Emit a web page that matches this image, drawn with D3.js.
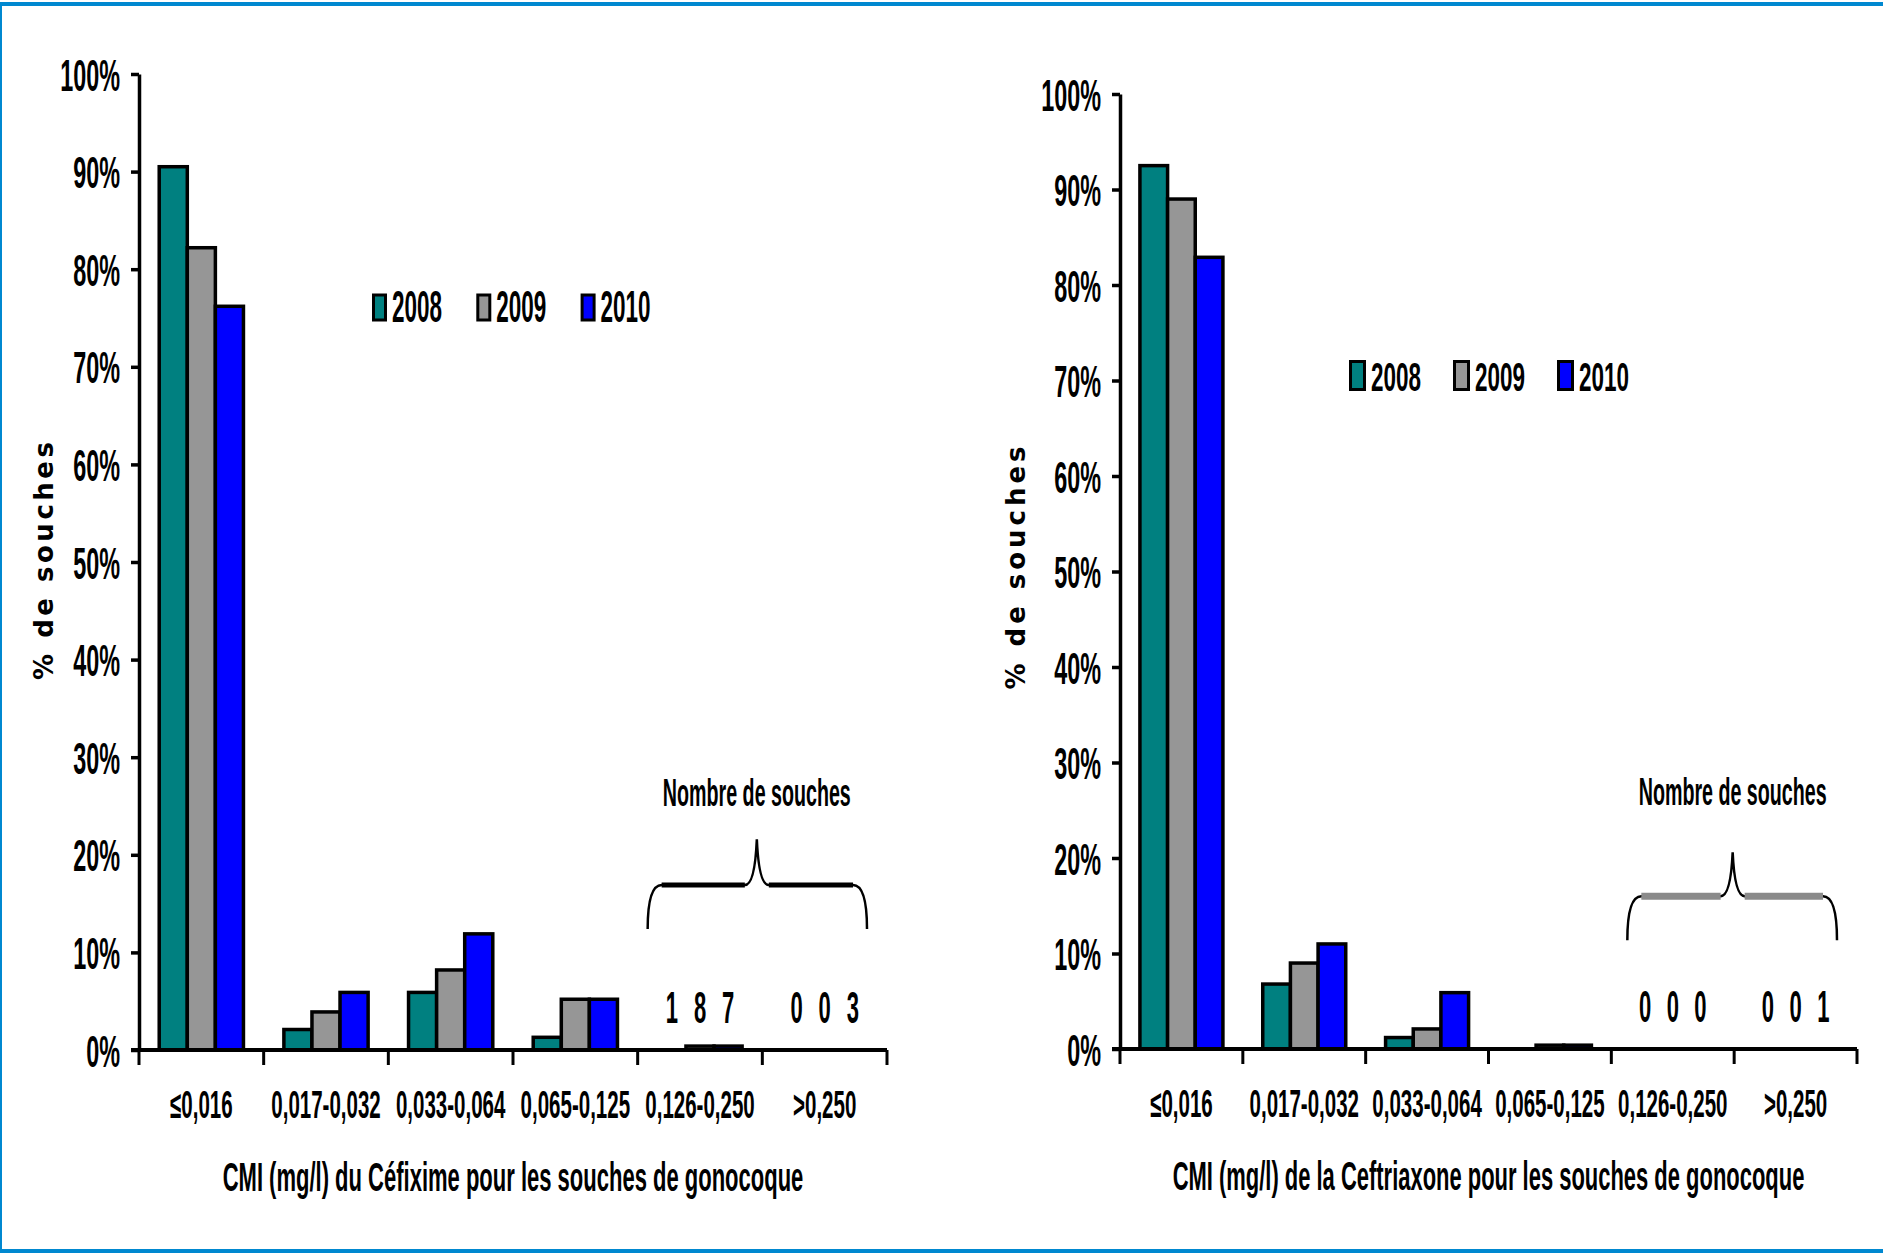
<!DOCTYPE html>
<html><head><meta charset="utf-8">
<script src="https://cdn.jsdelivr.net/npm/d3@7"></script>
<style>
html,body{margin:0;padding:0;background:#fff;}
svg{display:block;}
text{font-family:"Liberation Sans",Arial,sans-serif;font-weight:bold;fill:#000;}
text.ytitle{font-family:"DejaVu Sans",Verdana,sans-serif;}
</style></head><body>
<svg id="chart" width="1883" height="1253"></svg>
<script>
// ---------- data ----------
const categories = ["≤0,016","0,017-0,032","0,033-0,064","0,065-0,125","0,126-0,250",">0,250"];
const years = ["2008","2009","2010"];
const colors = ["#008080","#969696","#0000FF"];
const yTicks = [0,10,20,30,40,50,60,70,80,90,100];

// Céfixime (% de souches)
const cefixime2008 = [90.5, 2.1, 5.9, 1.3, 0, 0];
const cefixime2009 = [82.2, 3.9, 8.2, 5.2, 0.4, 0];
const cefixime2010 = [76.2, 5.9, 11.9, 5.2, 0.4, 0];
// Ceftriaxone (% de souches)
const ceftriaxone2008 = [92.5, 6.8, 1.2, 0, 0, 0];
const ceftriaxone2009 = [89.0, 9.0, 2.1, 0.4, 0, 0];
const ceftriaxone2010 = [82.9, 11.0, 5.9, 0.4, 0, 0];

// Nombre de souches (per year 2008, 2009, 2010)
const countCategories = ["0,126-0,250", ">0,250"];
const cefiximeCountsA = [1, 8, 7];
const cefiximeCountsB = [0, 0, 3];
const ceftriaxoneCountsA = [0, 0, 0];
const ceftriaxoneCountsB = [0, 0, 1];

const cefiximeTitle = "CMI (mg/l) du Céfixime pour les souches de gonocoque";
const ceftriaxoneTitle = "CMI (mg/l) de la Ceftriaxone pour les souches de gonocoque";
const yTitle = "% de souches";
const annotation = "Nombre de souches";

// ---------- drawing ----------
const svg = d3.select("#chart");
svg.append("rect").attr("x",0).attr("y",0).attr("width",1883).attr("height",1253).attr("fill","#fff");

// place a text at (x, y) compressed horizontally to a target width
function fitText(parent, str, x, y, size, width, anchor){
  const t = parent.append("text").attr("font-size", size).attr("text-anchor", anchor).text(str);
  const w = t.node().getComputedTextLength() || width;
  t.attr("transform", `translate(${x},${y}) scale(${width / w},1)`);
  return t;
}

function drawChart(cfg){
  const g = svg.append("g");
  const x = d3.scaleBand().domain(categories).range([cfg.x0, cfg.x1]).paddingInner(0).paddingOuter(0);
  const xi = d3.scaleBand().domain(years).range([0, x.bandwidth()]).paddingInner(0).paddingOuter(0.72);
  const y = d3.scaleLinear().domain([0,100]).range([cfg.yb, cfg.yt]);

  // bars
  const rows = categories.map((c,i)=>({cat:c, vals: cfg.series.map((s,j)=>({year:years[j], v:s[i], color:colors[j]}))}));
  g.append("g").selectAll("g").data(rows).join("g")
    .attr("transform", d=>`translate(${x(d.cat)},0)`)
    .selectAll("rect").data(d=>d.vals.filter(v=>v.v>0)).join("rect")
    .attr("x", d=>xi(d.year)).attr("y", d=>y(d.v))
    .attr("width", xi.bandwidth()).attr("height", d=>y(0)-y(d.v))
    .attr("fill", d=>d.color).attr("stroke","#000").attr("stroke-width",3.5);

  // y axis
  const ya = g.append("g").attr("transform", `translate(${cfg.x0},0)`)
    .call(d3.axisLeft(y).tickValues(yTicks).tickSize(8).tickSizeOuter(0).tickFormat(d=>d+"%"));
  ya.select(".domain").attr("stroke","#000").attr("stroke-width",3.5);
  ya.selectAll(".tick line").attr("stroke","#000").attr("stroke-width",3.5);
  ya.selectAll(".tick text").attr("x",0).attr("dy",null)
    .attr("font-size",45).attr("text-anchor","end")
    .attr("transform","translate(-19,16) scale(0.52,1)");

  // x axis
  const xa = g.append("g").attr("transform", `translate(0,${cfg.yb})`)
    .call(d3.axisBottom(x).tickSize(0).tickSizeOuter(0));
  xa.select(".domain").remove();
  xa.selectAll(".tick text").attr("y",0).attr("dy",null)
    .attr("font-size",38).attr("text-anchor","middle")
    .attr("transform","translate(0,68) scale(0.54,1)");
  g.append("line").attr("x1",cfg.x0-8).attr("x2",cfg.x1).attr("y1",cfg.yb).attr("y2",cfg.yb)
    .attr("stroke","#000").attr("stroke-width",4);
  const bounds = categories.map(c=>x(c)).concat([x.range()[1]]);
  g.append("g").selectAll("line").data(bounds).join("line")
    .attr("x1",d=>d).attr("x2",d=>d).attr("y1",cfg.yb).attr("y2",cfg.yb+15)
    .attr("stroke","#000").attr("stroke-width",3);

  // x title
  fitText(g, cfg.xTitle, (cfg.x0+cfg.x1)/2, cfg.yb+141, 40, cfg.xTitleLen, "middle");

  // y title
  g.append("text").attr("class","ytitle")
    .attr("transform",`translate(${cfg.yTitleX},${cfg.yTitleY}) rotate(-90)`)
    .attr("text-anchor","middle").attr("font-size",26)
    .attr("textLength",cfg.yTitleLen).attr("lengthAdjust","spacing")
    .text(yTitle);

  // legend
  years.forEach((yr,j)=>{
    const lx = cfg.legX + j*cfg.legStep;
    g.append("rect").attr("x",lx+1.5).attr("y",cfg.legY+1.5)
      .attr("width",cfg.legW-3).attr("height",cfg.legH-3)
      .attr("fill",colors[j]).attr("stroke","#000").attr("stroke-width",3);
    fitText(g, yr, lx+cfg.legW+5, cfg.legY+cfg.legH, cfg.legFont, 50, "start");
  });

  // counts (Nombre de souches)
  const countData = [];
  countCategories.forEach((c,k)=>{
    cfg.counts[k].forEach((n,j)=>countData.push({cat:c, year:years[j], n}));
  });
  g.append("g").selectAll("text").data(countData).join("text")
    .attr("font-size",44).attr("text-anchor","middle")
    .attr("transform", d=>`translate(${x(d.cat)+xi(d.year)+xi.bandwidth()/2},${cfg.yb-27}) scale(0.5,1)`)
    .text(d=>d.n);

  // brace
  const xa0 = x(countCategories[0]) + cfg.braceL;
  const xb0 = x(countCategories[1]) + x.bandwidth() - 20;
  const xt = x(countCategories[1]) + cfg.braceTip;
  const yh = y(cfg.braceH), ye = y(cfg.braceE), ytip = y(cfg.braceT);
  const p = d3.path();
  p.moveTo(xa0, ye);
  p.quadraticCurveTo(xa0, yh, xa0+14, yh);
  p.lineTo(xt-12, yh);
  p.quadraticCurveTo(xt-2, yh, xt, ytip);
  p.quadraticCurveTo(xt+2, yh, xt+12, yh);
  p.lineTo(xb0-14, yh);
  p.quadraticCurveTo(xb0, yh, xb0, ye);
  g.append("path").attr("d",p.toString()).attr("fill","none")
    .attr("stroke","#000").attr("stroke-width",2.5);
  const segColor = cfg.grayBrace ? "#8a8a8a" : "#000";
  const segWidth = cfg.grayBrace ? 7 : 5;
  [[xa0+14, xt-12],[xt+12, xb0-14]].forEach(([a,b])=>{
    g.append("line").attr("x1",a).attr("x2",b).attr("y1",yh).attr("y2",yh)
      .attr("stroke",segColor).attr("stroke-width",segWidth);
  });
  fitText(g, annotation, xt, yh-cfg.noteGap, 39, 188, "middle");
}

drawChart({
  x0:139, x1:887, yb:1050, yt:74,
  series:[cefixime2008, cefixime2009, cefixime2010],
  counts:[cefiximeCountsA, cefiximeCountsB],
  xTitle:cefiximeTitle, xTitleLen:581,
  yTitleX:53, yTitleY:561, yTitleLen:238,
  legX:372, legY:293.5, legStep:104.3, legW:15, legH:28, legFont:44,
  braceL:10, braceTip:-5.5, braceH:16.9, braceE:12.4, braceT:21.6,
  grayBrace:false, noteGap:79
});
drawChart({
  x0:1120, x1:1857, yb:1049, yt:94,
  series:[ceftriaxone2008, ceftriaxone2009, ceftriaxone2010],
  counts:[ceftriaxoneCountsA, ceftriaxoneCountsB],
  xTitle:ceftriaxoneTitle, xTitleLen:632,
  yTitleX:1025, yTitleY:568, yTitleLen:243,
  legX:1349, legY:360, legStep:104, legW:17, legH:31, legFont:41,
  braceL:16, braceTip:-1.5, braceH:16.0, braceE:11.4, braceT:20.6,
  grayBrace:true, noteGap:91
});

// blue frame
svg.append("rect").attr("x",0).attr("y",2).attr("width",1883).attr("height",4).attr("fill","#0088D0");
svg.append("rect").attr("x",0).attr("y",2).attr("width",2).attr("height",1251).attr("fill","#0088D0");
svg.append("rect").attr("x",0).attr("y",1249).attr("width",1883).attr("height",4).attr("fill","#0088D0");
</script>
</body></html>
